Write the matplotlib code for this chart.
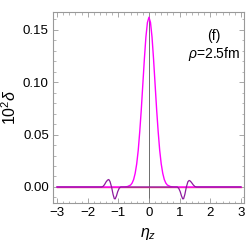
import numpy as np
import matplotlib.pyplot as plt
from matplotlib.ticker import MultipleLocator

plt.rcParams['font.family'] = ['Liberation Sans', 'DejaVu Sans']
plt.rcParams['mathtext.fontset'] = 'custom'
plt.rcParams['mathtext.rm'] = 'Liberation Sans'
plt.rcParams['mathtext.it'] = 'Liberation Sans:italic'

# magenta peak
peak_x = [-3.0, -0.8, -0.7, -0.6, -0.55, -0.5, -0.45, -0.4, -0.35, -0.3, -0.25, -0.2, -0.15, -0.1, -0.05,
          0.0, 0.05, 0.1, 0.15, 0.2, 0.25, 0.3, 0.35, 0.4, 0.45, 0.5, 0.55, 0.6, 0.7, 0.8, 3.0]
peak_y = [0.0, 0.0, 0.0004, 0.0018, 0.0037, 0.0071, 0.013, 0.022, 0.035, 0.053, 0.074, 0.098, 0.122, 0.143, 0.157,
          0.162, 0.157, 0.143, 0.122, 0.098, 0.074, 0.053, 0.035, 0.022, 0.013, 0.0071, 0.0037, 0.0018, 0.0004, 0.0, 0.0]

# purple wiggles near |eta_z| ~ 1.2
wig_x = [-3.0, -1.55, -1.5, -1.45, -1.4, -1.35, -1.31, -1.27, -1.22, -1.17, -1.13, -1.1, -1.06, -1.02, -0.97, -0.92,
         0.92, 0.97, 1.02, 1.06, 1.1, 1.13, 1.17, 1.22, 1.27, 1.31, 1.35, 1.4, 1.45, 1.5, 1.55, 3.0]
wig_y = [0.0, 0.0, 0.0005, 0.0022, 0.0048, 0.0066, 0.0071, 0.0052, 0.0, -0.0072, -0.0112, -0.0113, -0.0085, -0.0045, -0.0012, 0.0,
         0.0, -0.0012, -0.0045, -0.0085, -0.0113, -0.0112, -0.0072, 0.0, 0.0050, 0.0062, 0.0056, 0.0038, 0.0018, 0.0004, 0.0, 0.0]

# red line that stays at zero
flat_x = [-3.0, 3.0]
flat_y = [0.0, 0.0]

fig = plt.figure(figsize=(2.49, 2.49), dpi=100)
ax = fig.add_axes([53/249, 1 - 203/249, 191/249, 191/249])

ax.axvline(0, color='#555555', lw=0.6, zorder=1)
ax.plot(flat_x, flat_y, color='#e8407a', lw=1.0, zorder=2)
ax.plot(peak_x, peak_y, color='#ff00ff', lw=1.0, zorder=3)
ax.plot(wig_x, wig_y, color='#8e1a9e', lw=0.9, zorder=4)

ax.set_xlim(-3.13, 3.1)
ax.set_ylim(-0.0153, 0.167)
ax.xaxis.set_major_locator(MultipleLocator(1))
ax.xaxis.set_minor_locator(MultipleLocator(0.2))
ax.yaxis.set_major_locator(MultipleLocator(0.05))
ax.yaxis.set_minor_locator(MultipleLocator(0.01))
ax.yaxis.set_major_formatter(plt.FormatStrFormatter('%.2f'))
ax.tick_params(which='both', direction='in', top=True, right=True, color='#999999', labelsize=9.5, pad=3)
ax.tick_params(which='major', length=3.5, width=0.6)
ax.tick_params(which='minor', length=1.8, width=0.5)
ax.set_xticks([-3, -2, -1, 0, 1, 2, 3])
ax.set_xticklabels(['\u22123', '\u22122', '\u22121', '0', '1', '2', '3'])
for s in ax.spines.values():
    s.set_color('#999999')
    s.set_linewidth(0.8)

ax.set_xlabel(r'$\eta_z$', fontsize=11.5, labelpad=5)
ax.set_ylabel(r'$10^2\delta$', fontsize=11.5, labelpad=3)
ax.text(0.843, 0.874, '(f)', transform=ax.transAxes, ha='center', va='center', fontsize=10)
ax.text(0.843, 0.78, r'$\rho$=2.5fm', transform=ax.transAxes, ha='center', va='center', fontsize=10)

plt.savefig('out.png', dpi=100)
